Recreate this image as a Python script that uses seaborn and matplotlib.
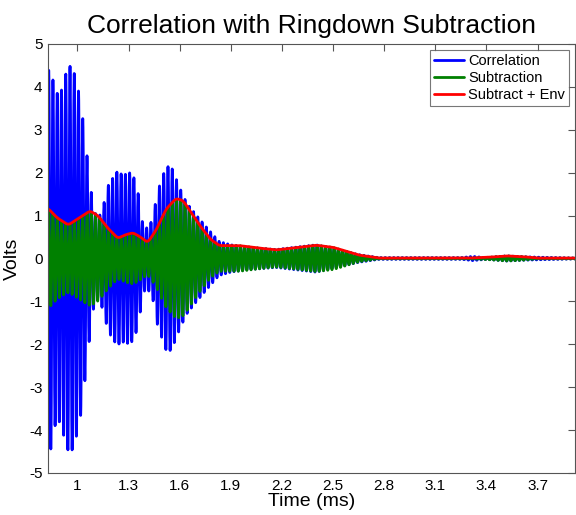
import numpy as np
import pandas as pd
import matplotlib
matplotlib.use("Agg")
import matplotlib.pyplot as plt
import seaborn as sns

# envelope knots (time in ms, volts)
corr_t = [0.827, 0.839, 0.868, 0.898, 0.917, 0.943, 0.966, 0.991, 1.019, 1.044,
          1.069, 1.092, 1.12, 1.15, 1.18, 1.23, 1.27, 1.307, 1.336, 1.365,
          1.383, 1.41, 1.44, 1.47, 1.52, 1.55, 1.60, 1.64, 1.70, 1.755,
          1.83, 1.90, 2.00, 2.165, 2.40, 2.65, 2.77, 3.25, 3.32, 3.40, 3.52, 3.62, 3.92]
corr_env = [4.3, 4.55, 3.9, 3.8, 4.1, 4.47, 4.5, 4.2, 3.66, 2.84,
            1.92, 1.2, 0.9, 1.2, 1.7, 2.02, 1.95, 2.0, 1.86, 1.36,
            0.8, 0.7, 0.9, 1.56, 2.14, 2.15, 1.65, 1.3, 1.0, 0.74,
            0.4, 0.32, 0.26, 0.21, 0.32, 0.09, 0.02, 0.02, 0.05, 0.02, 0.06, 0.04, 0.01]

env_t = [0.827, 0.88, 0.946, 1.0, 1.073, 1.12, 1.18, 1.237, 1.28, 1.325,
         1.37, 1.412, 1.46, 1.52, 1.578, 1.62, 1.716, 1.78, 1.833, 1.95,
         2.05, 2.165, 2.28, 2.40, 2.50, 2.65, 2.77, 3.0, 3.3, 3.42,
         3.52, 3.62, 3.70, 3.92]
env_v = [1.17, 0.95, 0.78, 0.92, 1.11, 1.0, 0.7, 0.47, 0.55, 0.6,
         0.5, 0.37, 0.65, 1.15, 1.4, 1.35, 0.78, 0.45, 0.3, 0.3,
         0.25, 0.2, 0.25, 0.31, 0.26, 0.08, 0.01, 0.01, 0.01, 0.03,
         0.06, 0.04, 0.01, 0.01]

carrier_khz = 40.0
xticks = [1, 1.3, 1.6, 1.9, 2.2, 2.5, 2.8, 3.1, 3.4, 3.7]
yticks = list(range(-5, 6))

t = np.arange(0.827, 3.92, 0.0005)
carrier = np.sin(2 * np.pi * carrier_khz * t)


def smooth(v, n=61):
    k = np.ones(n) / n
    pad = np.pad(v, n // 2, mode="edge")
    return np.convolve(pad, k, mode="valid")


red = smooth(np.interp(t, env_t, env_v))
blue_env = smooth(np.interp(t, corr_t, corr_env), 9)

df = pd.DataFrame({
    "t": t,
    "corr": blue_env * carrier,
    "sub": red * carrier,
    "env": red,
})

sns.set_style("white")
plt.rcParams["font.family"] = ["Liberation Sans", "DejaVu Sans"]
plt.rcParams["axes.unicode_minus"] = False
plt.rcParams["text.color"] = "black"
plt.rcParams["axes.labelcolor"] = "black"
plt.rcParams["xtick.color"] = "black"
plt.rcParams["ytick.color"] = "black"

fig = plt.figure(figsize=(5.76, 5.15), dpi=100)
ax = fig.add_axes([0.0833, 0.0816, 0.915, 0.833])

sns.lineplot(data=df, x="t", y="corr", ax=ax, color="#0000FF", lw=2.0,
             estimator=None, label="Correlation")
sns.lineplot(data=df, x="t", y="sub", ax=ax, color="#008000", lw=2.0,
             estimator=None, label="Subtraction")
sns.lineplot(data=df, x="t", y="env", ax=ax, color="#FF0000", lw=2.0,
             estimator=None, label="Subtract + Env")

ax.set_xlim(0.827, 3.92)
ax.set_ylim(-5, 5)
ax.set_xticks(xticks)
ax.set_xticklabels([f"{v:g}" for v in xticks])
ax.set_yticks(yticks)
ax.tick_params(direction="in", length=5, width=0.8, color="#555555",
               labelcolor="black", top=True, right=True, labelsize=11, pad=4)
for s in ax.spines.values():
    s.set_color("#555555")
    s.set_linewidth(0.8)

ax.set_title("Correlation with Ringdown Subtraction", fontsize=19, pad=8,
             color="black")
ax.set_xlabel("Time (ms)", fontsize=14, labelpad=0, color="black")
ax.set_ylabel("Volts", fontsize=14, labelpad=6, color="black")

leg = ax.legend(loc="upper right", fontsize=10.5, frameon=True, fancybox=False,
                handlelength=2.0, handletextpad=0.3, borderpad=0.3,
                labelspacing=0.2, borderaxespad=0.4)
leg.get_frame().set_edgecolor("#555555")
leg.get_frame().set_linewidth(0.8)
for txt in leg.get_texts():
    txt.set_color("black")

fig.savefig("out.png", dpi=100)
